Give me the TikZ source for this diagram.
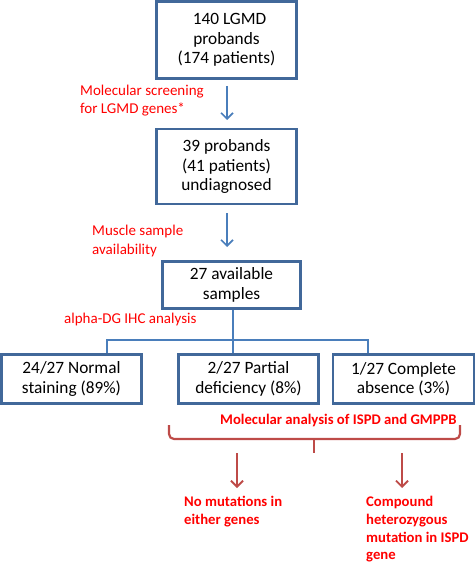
\documentclass[tikz,border=0pt]{standalone}
\usepackage{fontspec}
\setmainfont{Carlito}
\usetikzlibrary{arrows.meta,calc}
\definecolor{boxblue}{HTML}{41689A}
\definecolor{arrblue}{HTML}{4A7EBB}
\definecolor{brred}{HTML}{BE4B48}
\begin{document}
\begin{tikzpicture}[x=1pt,y=-1pt,
  box/.style={draw=boxblue, line width=2.6pt, align=center, inner sep=0pt,
    font=\fontsize{17.3}{19.5}\selectfont},
  lbl/.style={text=red, anchor=west, align=left, inner sep=0pt,
    font=\fontsize{15}{18}\selectfont},
  blbl/.style={text=red, anchor=west, align=left, inner sep=0pt,
    font=\bfseries\fontsize{14.7}{17.8}\selectfont},
  barr/.style={draw=arrblue, line width=1.6pt, -{Straight Barb[length=6pt,width=12pt,line width=1.6pt]}},
  rarr/.style={draw=brred, line width=1.8pt, -{Straight Barb[length=6pt,width=12pt,line width=1.8pt]}},
  tree/.style={draw=arrblue, line width=1.2pt}
]
\useasboundingbox (0,0) rectangle (475,564);

\node[box, minimum width=140pt, minimum height=77.5pt] (b1) at (226.5,40) {\hspace*{6pt}140 LGMD\\probands\\(174 patients)};
\node[box, minimum width=140pt, minimum height=75pt] (b2) at (226.5,166.5) {39 probands\\(41 patients)\\undiagnosed};
\node[box, minimum width=138pt, minimum height=47pt] (b3) at (231.5,285) {27 available\\samples};

\node[box, minimum width=140pt, minimum height=49pt] (bA) at (71.5,379) {24/27 Normal\\staining (89\%)};
\node[box, minimum width=140pt, minimum height=49pt] (bB) at (248.5,379) {2/27 Partial\\deficiency (8\%)};
\node[box, minimum width=141pt, minimum height=49pt] (bC) at (403.5,379) {1/27 Complete\\absence (3\%)};

\coordinate (a1s) at (227,86);
\coordinate (a1e) at (227,120);
\coordinate (a2s) at (227,213);
\coordinate (a2e) at (227,247);
\draw[barr] (a1s) -- (a1e);
\draw[barr] (a2s) -- (a2e);

\node[lbl] (l1) at (80,101) {Molecular screening\\for LGMD genes*};
\node[lbl] (l2) at (92,241) {Muscle sample\\availability};
\node[lbl] (l3) at (64,319) {alpha-DG IHC analysis};

\coordinate (j) at (233,340);
\draw[tree] (b3.south -| j) -- (j);
\draw[tree] (bA.north -| 107,0) -- (107,340) -- (368,340) -- (bC.north -| 368,0);
\draw[tree] (j) -- (bB.north -| j);

\node[blbl] (l4) at (220,420) {Molecular analysis of ISPD and GMPPB};

\coordinate (brL) at (169,425);
\coordinate (brR) at (460,425);
\coordinate (brM) at (314,439);
\coordinate (brT) at (314,453);
\draw[draw=brred, line width=2.2pt, rounded corners=5pt] (brL) -- (169,439) -- (460,439) -- (brR);
\draw[draw=brred, line width=2.2pt] (brM) -- (brT);

\coordinate (r1s) at (237,453);
\coordinate (r1e) at (237,488);
\coordinate (r2s) at (402,453);
\coordinate (r2e) at (402,488);
\draw[rarr] (r1s) -- (r1e);
\draw[rarr] (r2s) -- (r2e);

\node[blbl, anchor=north west] (o1) at (184,496) {No mutations in\\either genes};
\node[blbl, anchor=north west] (o2) at (366,496) {Compound\\heterozygous\\mutation in ISPD\\gene};
\end{tikzpicture}
\end{document}
